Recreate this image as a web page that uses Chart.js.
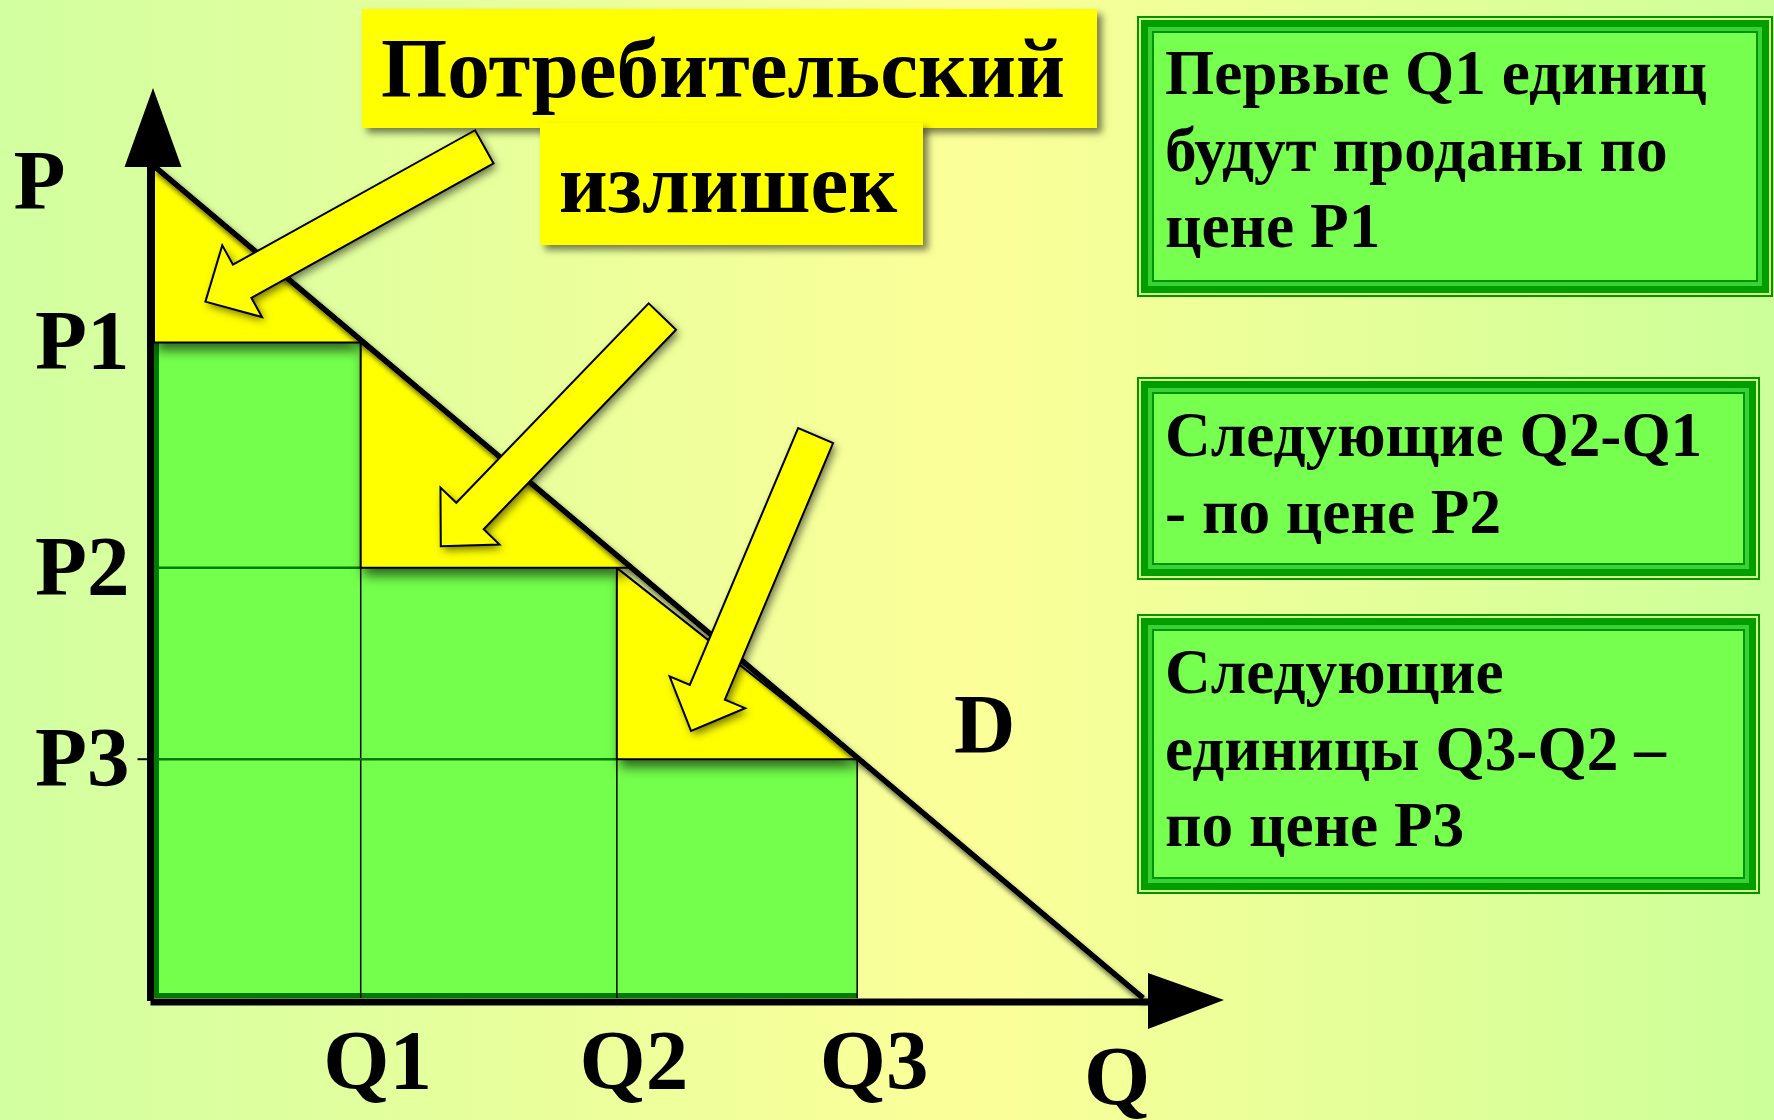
<!DOCTYPE html>
<html lang="ru">
<head>
<meta charset="utf-8">
<title>Потребительский излишек</title>
<script src="https://cdn.jsdelivr.net/npm/chart.js@4.4.1/dist/chart.umd.min.js"></script>
<style>
  html, body { margin: 0; padding: 0; background: #e8ff9c; }
  #wrap { width: 1774px; height: 1120px; }
</style>
</head>
<body>
<div id="wrap"><canvas id="chart" width="1774" height="1120"></canvas></div>
<script>
// price steps: first Q1 units sold at P1, next up to Q2 at P2, next up to Q3 at P3
const qLabels = ['Q1', 'Q2', 'Q3'];
const qValues = [2.09, 4.68, 7.11];
const pLabels = ['P1', 'P2', 'P3'];
const pValues = [7.88, 5.17, 2.87];

// demand line D, end points in (Q, P)
const demandQ = [0, 10];
const demandP = [10, 0];

// callout arrows, tail -> tip, in (Q, P)
const arrowTails = [[3.34, 10.23], [5.14, 8.19], [6.69, 6.76]];
const arrowTips = [[0.52, 8.37], [2.90, 5.43], [5.43, 3.21]];

const titleLines = ['Потребительский', 'излишек'];
const notes = [
  ['Первые Q1 единиц', 'будут проданы по', 'цене P1'],
  ['Следующие Q2-Q1', '- по цене P2'],
  ['Следующие', 'единицы Q3-Q2 –', 'по цене P3']
];

const GREEN = '#74ff4c';
const DARK_GREEN = '#007a00';
const YELLOW = '#ffff00';
const SERIF = '"Liberation Serif", "Times New Roman", serif';

// Q on the demand line for a given price
const demandAt = p => demandQ[0] + (p - demandP[0]) * (demandQ[1] - demandQ[0]) / (demandP[1] - demandP[0]);

// green staircase (paid amount) as one closed outline
const stairs = [{ x: 0, y: 0 }, { x: 0, y: pValues[0] }];
qValues.forEach((q, i) => {
  stairs.push({ x: q, y: pValues[i] });
  stairs.push({ x: q, y: i + 1 < pValues.length ? pValues[i + 1] : 0 });
});

// yellow triangles between neighbouring price levels and D
const tops = [demandP[0], ...pValues.slice(0, -1)];
const lefts = [demandQ[0], ...qValues.slice(0, -1)];
const triangles = pValues.map((p, i) => [
  { x: lefts[i], y: tops[i] },
  { x: lefts[i], y: p },
  { x: demandAt(p), y: p },
  { x: lefts[i], y: tops[i] }
]);

const seg = (x1, y1, x2, y2) => [{ x: x1, y: y1 }, { x: x2, y: y2 }];

const datasets = [];
datasets.push({ data: stairs, fill: 'shape', backgroundColor: GREEN, borderWidth: 0, order: 10 });
// thick dark edge along the axes
datasets.push({ data: seg(0, 0, 0, pValues[0]), borderColor: DARK_GREEN, borderWidth: 10, order: 9 });
datasets.push({ data: seg(0, 0, qValues[qValues.length - 1], 0), borderColor: DARK_GREEN, borderWidth: 10, order: 9 });
// price lines inside the green area
for (let i = 1; i < pValues.length; i++) {
  datasets.push({ data: seg(0, pValues[i], qValues[i - 1], pValues[i]), borderColor: DARK_GREEN, borderWidth: 2.5, order: 8 });
}
// quantity lines
qValues.forEach((q, i) => {
  datasets.push({ data: seg(q, 0, q, pValues[i]), borderColor: '#000', borderWidth: 1.5, order: 8 });
});
triangles.forEach(t => {
  datasets.push({
    data: t, fill: 'shape', backgroundColor: YELLOW, borderColor: '#000', borderWidth: 2,
    borderJoinStyle: 'miter', clip: false, order: 7,
    shadow: { color: 'rgba(0,0,0,0.6)', blur: 12, x: 3, y: 8, fill: true }
  });
});
datasets.push({
  data: demandQ.map((q, i) => ({ x: q, y: demandP[i] })),
  borderColor: '#000', borderWidth: 5, clip: false, order: 6,
  shadow: { color: 'rgba(0,0,0,0.65)', blur: 5, x: 3, y: 5 }
});

// horizontal text squeeze so the serif face looks condensed
function drawText(ctx, text, x, y, size, squeeze, align) {
  ctx.save();
  ctx.font = 'bold ' + size + 'px ' + SERIF;
  ctx.textAlign = 'left';
  ctx.textBaseline = 'alphabetic';
  const w = ctx.measureText(text).width * squeeze;
  let left = x;
  if (align === 'center') left = x - w / 2;
  if (align === 'right') left = x - w;
  ctx.translate(left, y);
  ctx.scale(squeeze, 1);
  ctx.fillStyle = '#000';
  ctx.fillText(text, 0, 0);
  ctx.restore();
}

function squeezeFor(ctx, text, size, width) {
  ctx.save();
  ctx.font = 'bold ' + size + 'px ' + SERIF;
  const s = width / ctx.measureText(text).width;
  ctx.restore();
  return s;
}

function blockArrow(ctx, x1, y1, x2, y2) {
  const shaft = 38, head = 82, headLen = 42;
  const len = Math.hypot(x2 - x1, y2 - y1);
  ctx.save();
  ctx.translate(x1, y1);
  ctx.rotate(Math.atan2(y2 - y1, x2 - x1));
  ctx.beginPath();
  ctx.moveTo(0, -shaft / 2);
  ctx.lineTo(len - headLen, -shaft / 2);
  ctx.lineTo(len - headLen, -head / 2);
  ctx.lineTo(len, 0);
  ctx.lineTo(len - headLen, head / 2);
  ctx.lineTo(len - headLen, shaft / 2);
  ctx.lineTo(0, shaft / 2);
  ctx.closePath();
  ctx.save();
  ctx.shadowColor = 'rgba(0,0,0,0.55)';
  ctx.shadowBlur = 9;
  ctx.shadowOffsetX = 3;
  ctx.shadowOffsetY = 4;
  ctx.fillStyle = YELLOW;
  ctx.fill();
  ctx.restore();
  ctx.lineWidth = 2;
  ctx.lineJoin = 'miter';
  ctx.strokeStyle = '#000';
  ctx.stroke();
  ctx.restore();
}

function yellowBox(ctx, x, y, w, h) {
  ctx.save();
  ctx.shadowColor = 'rgba(0,0,0,0.5)';
  ctx.shadowBlur = 7;
  ctx.shadowOffsetX = 5;
  ctx.shadowOffsetY = 5;
  ctx.fillStyle = YELLOW;
  ctx.fillRect(x, y, w, h);
  ctx.restore();
}

function noteBox(ctx, x, y, w, h) {
  const layers = [['#009400', 2], ['#d9ff80', 2], ['#009e00', 7], ['#3ad132', 4], ['#009400', 2]];
  let inset = 0;
  layers.forEach(([c, t]) => {
    ctx.fillStyle = c;
    ctx.fillRect(x + inset, y + inset, w - 2 * inset, h - 2 * inset);
    inset += t;
  });
  ctx.fillStyle = '#76ff4e';
  ctx.fillRect(x + inset, y + inset, w - 2 * inset, h - 2 * inset);
}

const backdrop = {
  id: 'backdrop',
  beforeDraw(chart) {
    const { ctx, width, height } = chart;
    const g = ctx.createLinearGradient(0, 0, width, 0);
    g.addColorStop(0, '#d2ffa0');
    g.addColorStop(0.55, '#fcff99');
    g.addColorStop(1, '#ccff99');
    ctx.save();
    ctx.fillStyle = g;
    ctx.fillRect(0, 0, width, height);
    ctx.restore();
  }
};

// soft shadows under the triangles and the demand line
const shadows = {
  id: 'shadows',
  beforeDatasetDraw(chart, args) {
    const ds = chart.data.datasets[args.index];
    if (!ds.shadow) return;
    const pts = args.meta.data;
    const ctx = chart.ctx;
    ctx.save();
    ctx.shadowColor = ds.shadow.color;
    ctx.shadowBlur = ds.shadow.blur;
    ctx.shadowOffsetX = ds.shadow.x;
    ctx.shadowOffsetY = ds.shadow.y;
    ctx.beginPath();
    pts.forEach((p, i) => (i ? ctx.lineTo(p.x, p.y) : ctx.moveTo(p.x, p.y)));
    if (ds.shadow.fill) {
      ctx.fillStyle = ds.backgroundColor;
      ctx.fill();
    } else {
      ctx.strokeStyle = ds.borderColor;
      ctx.lineWidth = ds.borderWidth;
      ctx.stroke();
    }
    ctx.restore();
  }
};

const overlay = {
  id: 'overlay',
  afterDraw(chart) {
    const { ctx, scales: { x, y } } = chart;
    const x0 = x.getPixelForValue(0) - 3.5;
    const y0 = y.getPixelForValue(0) + 4;
    const top = y.getPixelForValue(10);
    const right = x.getPixelForValue(10);

    // axes with arrow heads
    ctx.save();
    ctx.fillStyle = '#000';
    ctx.fillRect(x0 - 3.5, top - 2, 7, y0 - top + 1);
    ctx.fillRect(x0, y0 - 3.5, right + 8 - x0, 7);
    ctx.beginPath();
    ctx.moveTo(x0 - 26, top + 1);
    ctx.lineTo(x0 + 31, top + 1);
    ctx.lineTo(x0 + 2.5, top - 78);
    ctx.closePath();
    ctx.fill();
    ctx.beginPath();
    ctx.moveTo(right + 5, y0 - 29);
    ctx.lineTo(right + 5, y0 + 27);
    ctx.lineTo(right + 81, y0 - 2);
    ctx.closePath();
    ctx.fill();
    // small tick at the lowest price
    const pLow = y.getPixelForValue(pValues[pValues.length - 1]);
    ctx.fillRect(x0 - 13, pLow - 1, 13, 2);
    ctx.restore();

    const big = 85;
    const sq = squeezeFor(ctx, titleLines[0], big, 684);

    drawText(ctx, 'P', x0 - 137, top + 43, big, sq, 'left');
    pLabels.forEach((t, i) => drawText(ctx, t, x0 - 21, y.getPixelForValue(pValues[i]) + 27, big, sq, 'right'));
    qLabels.forEach((t, i) => drawText(ctx, t, x.getPixelForValue(qValues[i]) + 17, y0 + 87, big, sq, 'center'));
    drawText(ctx, 'Q', right - 26, y0 + 103, big, sq, 'center');
    drawText(ctx, 'D', x.getPixelForValue(8.4), y.getPixelForValue(2.95), big, sq, 'center');

    // callout arrows
    arrowTails.forEach((t, i) => {
      blockArrow(ctx, x.getPixelForValue(t[0]), y.getPixelForValue(t[1]),
        x.getPixelForValue(arrowTips[i][0]), y.getPixelForValue(arrowTips[i][1]));
    });

    // title
    yellowBox(ctx, 362, 9, 735, 119);
    drawText(ctx, titleLines[0], 723, 97, big, sq, 'center');
    yellowBox(ctx, 540, 123, 383, 122);
    drawText(ctx, titleLines[1], 728, 212, big, sq, 'center');

    // notes on the right
    const small = 64;
    const sq2 = squeezeFor(ctx, notes[0][0], small, 542);
    const boxes = [[1137, 16, 636, 281], [1137, 377, 623, 203], [1137, 614, 623, 280]];
    const firstBase = [94, 456, 693];
    boxes.forEach((b, i) => {
      noteBox(ctx, b[0], b[1], b[2], b[3]);
      notes[i].forEach((line, j) => drawText(ctx, line, 1165, firstBase[i] + j * 76.5, small, sq2, 'left'));
    });
  }
};

new Chart(document.getElementById('chart'), {
  type: 'line',
  data: { datasets },
  options: {
    responsive: false,
    animation: false,
    events: [],
    layout: { padding: { left: 154, right: 631, top: 166, bottom: 122 } },
    scales: {
      x: { type: 'linear', min: 0, max: 10, display: false },
      y: { type: 'linear', min: 0, max: 10, display: false }
    },
    elements: {
      point: { radius: 0, hitRadius: 0 },
      line: { tension: 0, fill: false }
    },
    plugins: {
      legend: { display: false },
      tooltip: { enabled: false }
    }
  },
  plugins: [backdrop, shadows, overlay]
});
</script>
</body>
</html>
